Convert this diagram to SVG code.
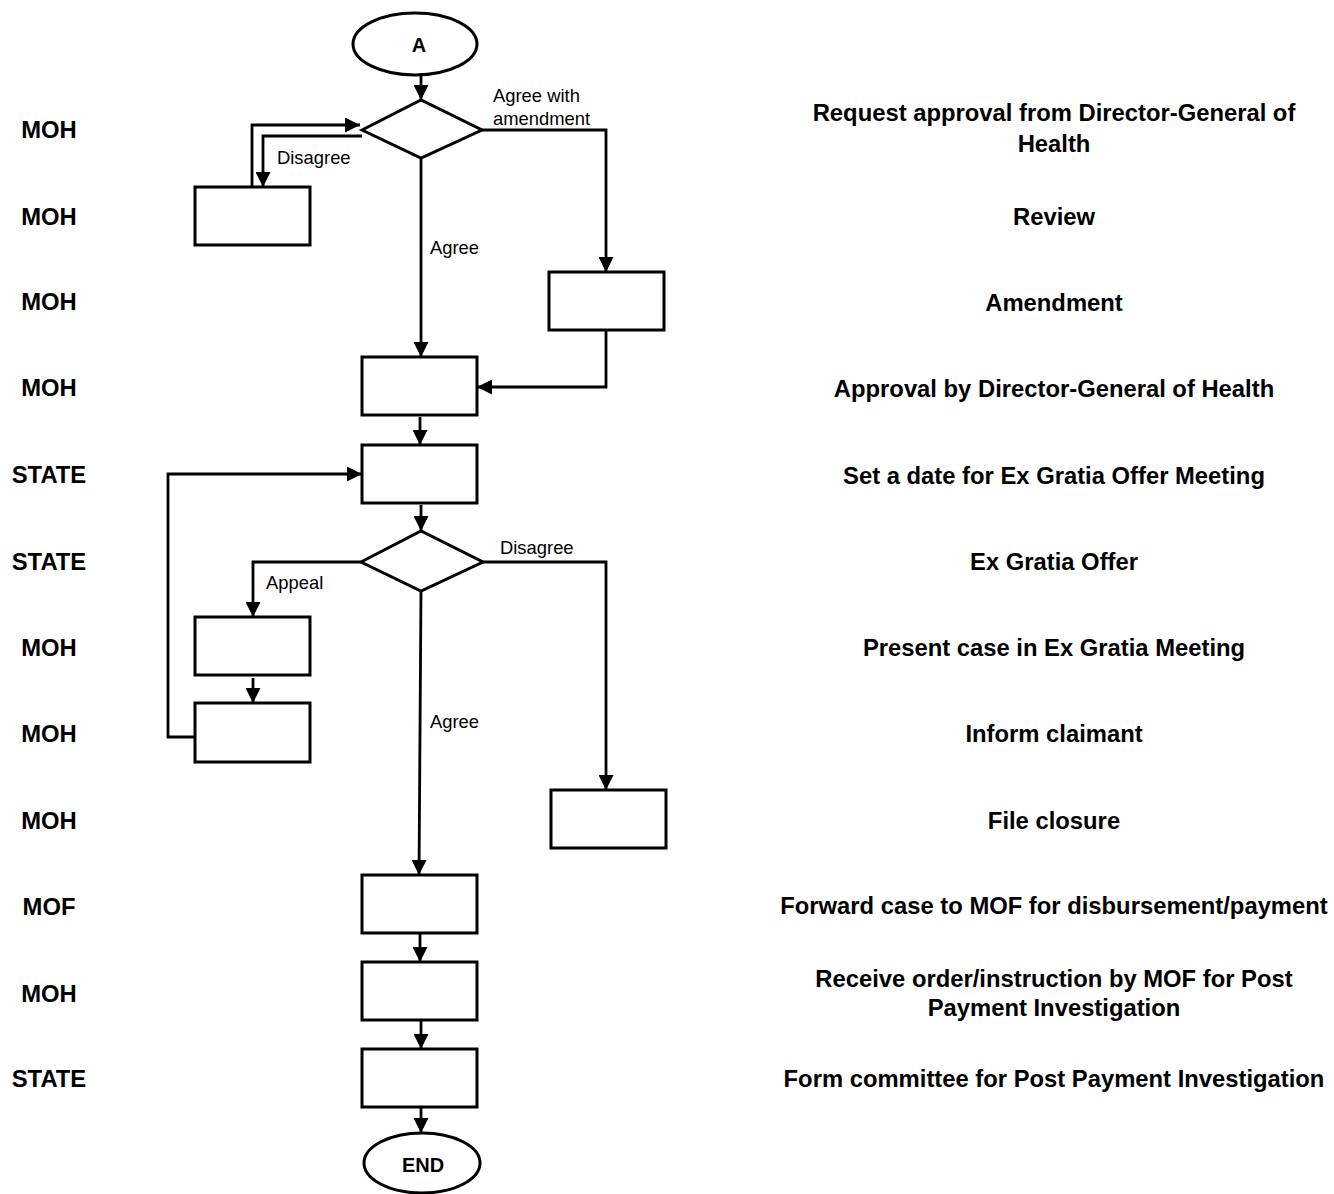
<svg xmlns="http://www.w3.org/2000/svg" width="1334" height="1194" viewBox="0 0 1334 1194">
<style>
.box{fill:#fff;stroke:#000;stroke-width:3}
.ln{fill:none;stroke:#000;stroke-width:2.8;marker-end:url(#ah)}
.lab{font-family:"Liberation Sans",Arial,sans-serif;font-size:18.4px;fill:#000}
.bl{font-family:"Liberation Sans",Arial,sans-serif;font-size:23.8px;font-weight:bold;fill:#000;text-anchor:middle}
.term{font-family:"Liberation Sans",Arial,sans-serif;font-size:20px;font-weight:bold;fill:#000;text-anchor:middle}
</style>
<defs>
<marker id="ah" markerUnits="userSpaceOnUse" markerWidth="15" markerHeight="15" viewBox="0 0 15 15" refX="15" refY="7.5" orient="auto">
<path d="M0,0 L15,7.5 L0,15 z" fill="#000"/>
</marker>
</defs>
<rect width="1334" height="1194" fill="#fff"/>

<g id="connectors">
<line class="ln" x1="421" y1="75" x2="421" y2="100"/>
<line class="ln" x1="421" y1="158" x2="421" y2="357"/>
<polyline class="ln" points="482,130 606,130 606,272"/>
<polyline class="ln" points="362,136 263,136 263,187"/>
<polyline class="ln" points="252,187 252,125 360,125"/>
<polyline class="ln" points="606,330 606,387 477,387"/>
<line class="ln" x1="420" y1="417" x2="420" y2="445"/>
<line class="ln" x1="421" y1="505" x2="421" y2="531"/>
<polyline class="ln" points="361,562 253,562 253,617"/>
<line class="ln" x1="253" y1="678" x2="253" y2="703"/>
<polyline class="ln" points="195,737 168,737 168,474 362,474"/>
<polyline class="ln" points="483,562 606,562 606,790"/>
<line class="ln" x1="421" y1="591" x2="419" y2="875"/>
<line class="ln" x1="420" y1="933" x2="420" y2="962"/>
<line class="ln" x1="421" y1="1020" x2="421" y2="1049"/>
<line class="ln" x1="421" y1="1107" x2="421" y2="1133"/>
</g>

<g id="connector-labels">
<text class="lab" x="493" y="102">Agree with</text>
<text class="lab" x="493" y="124.5">amendment</text>
<text class="lab" x="277" y="164">Disagree</text>
<text class="lab" x="430" y="254">Agree</text>
<text class="lab" x="500" y="554">Disagree</text>
<text class="lab" x="266" y="589">Appeal</text>
<text class="lab" x="430" y="728">Agree</text>
</g>

<g id="start"><ellipse class="box" cx="415" cy="44" rx="62" ry="31"/><text class="term" x="419" y="52">A</text></g>
<g id="decision1"><polygon class="box" points="362,130 421,100 482,130 421,158"/></g>
<g id="review"><rect class="box" x="195" y="187" width="115" height="58"/></g>
<g id="amendment"><rect class="box" x="549" y="272" width="115" height="58"/></g>
<g id="approval"><rect class="box" x="362" y="357" width="115" height="58"/></g>
<g id="setdate"><rect class="box" x="362" y="445" width="115" height="58"/></g>
<g id="decision2"><polygon class="box" points="361,562 421,531 483,562 421,591"/></g>
<g id="present"><rect class="box" x="195" y="617" width="115" height="58"/></g>
<g id="inform"><rect class="box" x="195" y="703" width="115" height="59"/></g>
<g id="closure"><rect class="box" x="551" y="790" width="115" height="58"/></g>
<g id="forward"><rect class="box" x="362" y="875" width="115" height="58"/></g>
<g id="receive"><rect class="box" x="362" y="962" width="115" height="58"/></g>
<g id="committee"><rect class="box" x="362" y="1049" width="115" height="58"/></g>
<g id="end"><ellipse class="box" cx="422" cy="1163" rx="58" ry="30"/><text class="term" x="423" y="1172">END</text></g>

<g id="actors">
<text class="bl" x="49" y="137.5">MOH</text>
<text class="bl" x="49" y="224.5">MOH</text>
<text class="bl" x="49" y="309.5">MOH</text>
<text class="bl" x="49" y="395.5">MOH</text>
<text class="bl" x="49" y="482.5">STATE</text>
<text class="bl" x="49" y="569.5">STATE</text>
<text class="bl" x="49" y="655.5">MOH</text>
<text class="bl" x="49" y="741.5">MOH</text>
<text class="bl" x="49" y="828.5">MOH</text>
<text class="bl" x="49" y="914.5">MOF</text>
<text class="bl" x="49" y="1001.5">MOH</text>
<text class="bl" x="49" y="1086.5">STATE</text>
</g>

<g id="descriptions">
<text class="bl" x="1054" y="120.5">Request approval from Director-General of</text>
<text class="bl" x="1054" y="151.5">Health</text>
<text class="bl" x="1054" y="224.5">Review</text>
<text class="bl" x="1054" y="310.5">Amendment</text>
<text class="bl" x="1054" y="396.5">Approval by Director-General of Health</text>
<text class="bl" x="1054" y="483.5">Set a date for Ex Gratia Offer Meeting</text>
<text class="bl" x="1054" y="569.5">Ex Gratia Offer</text>
<text class="bl" x="1054" y="655.5">Present case in Ex Gratia Meeting</text>
<text class="bl" x="1054" y="741.5">Inform claimant</text>
<text class="bl" x="1054" y="828.5">File closure</text>
<text class="bl" x="1054" y="913.5">Forward case to MOF for disbursement/payment</text>
<text class="bl" x="1054" y="986.5">Receive order/instruction by MOF for Post</text>
<text class="bl" x="1054" y="1015.5">Payment Investigation</text>
<text class="bl" x="1054" y="1086.5">Form committee for Post Payment Investigation</text>
</g>
</svg>
